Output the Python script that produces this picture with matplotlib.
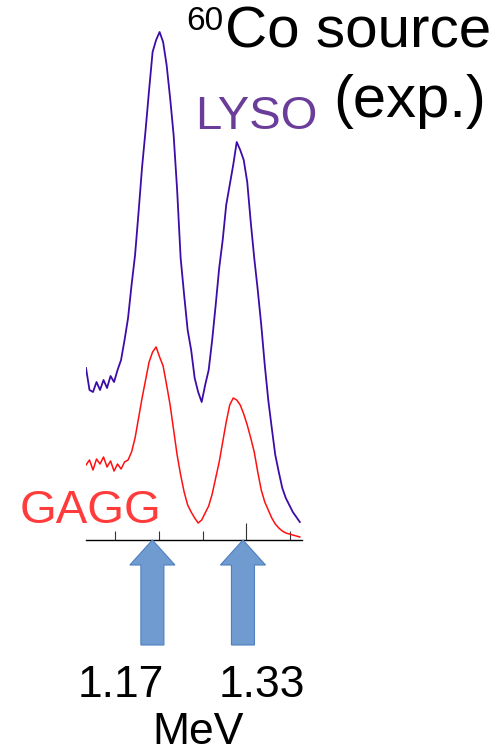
import numpy as np
from matplotlib import pyplot as plt

plt.rcParams["font.family"] = ["Liberation Sans", "DejaVu Sans"]

# channel axis of the spectrum and its energy calibration
channels = np.arange(134, 627, 8)
GAIN = 0.000774  # MeV per channel
OFFSET = 0.949  # MeV
peak_energies = [1.17, 1.33]
peak_labels = ["1.17", "1.33"]

# counts (arbitrary units)
lyso_counts = [
    172, 150, 148, 158, 150, 160, 152, 164, 158, 170, 180, 200, 222, 255,
    285, 328, 373, 410, 450, 488, 500, 508, 498, 475, 442, 405, 350, 282,
    245, 210, 190, 162, 148, 138, 155, 170, 200, 235, 272, 300, 335, 355,
    375, 398, 390, 380, 358, 318, 282, 250, 215, 175, 140, 112, 85, 68,
    52, 42, 35, 28, 23, 18,
]
gagg_counts = [
    75, 80, 70, 81, 76, 83, 73, 79, 69, 76, 71, 78, 80, 88, 102, 122,
    142, 160, 178, 188, 193, 183, 174, 155, 135, 110, 85, 65, 48, 35,
    28, 22, 17, 20, 27, 34, 46, 62, 78, 98, 118, 135, 142, 140, 135,
    126, 115, 102, 88, 68, 50, 38, 30, 22, 16, 12, 9, 7, 6, 5, 4, 3,
]

W, H = 501, 755
fig = plt.figure(figsize=(W / 100, H / 100), dpi=100)
ax = fig.add_axes([86 / W, (H - 540) / H, 216 / W, 520 / H])

ax.plot(channels, lyso_counts, color="#3d0ca8", lw=1.3)
ax.plot(channels, gagg_counts, color="#ff1010", lw=1.1)

ax.set_xlim(134, 627)
ax.set_ylim(0, 520)
for side in ["left", "right", "top"]:
    ax.spines[side].set_visible(False)
ax.spines["bottom"].set_linewidth(1.0)
ax.set_yticks([])
ax.set_xticks([200, 300, 400, 600])
ax.set_xticks([500], minor=True)
ax.tick_params(axis="x", which="major", direction="in", length=6.5,
               width=0.8, color="#333333", labelbottom=False)
ax.tick_params(axis="x", which="minor", direction="in", length=12.5,
               width=0.8, color="#333333", labelbottom=False)

# arrows marking the 60Co gamma lines
for e in peak_energies:
    ch = (e - OFFSET) / GAIN
    ax.arrow(ch, -105, 0, 105, width=23 / 0.4375, head_width=45 / 0.4375,
             head_length=25, length_includes_head=True, clip_on=False,
             facecolor="#6f9bd1", edgecolor="#4f7fbf", lw=0.8, zorder=3)


def label(x, y, s, **kw):
    fig.text(x / W, 1 - y / H, s, va="baseline", **kw)


label(186, 30, "60", fontsize=24)
label(225, 48, "Co source", fontsize=42)
label(486, 117, "(exp.)", fontsize=43, ha="right")
label(195, 129, "LYSO", fontsize=34, color="#6a3d9a")
label(20, 523, "GAGG", fontsize=34, color="#ff3b3b")
label(121, 697, peak_labels[0], fontsize=32, ha="center")
label(262, 697, peak_labels[1], fontsize=32, ha="center")
label(198, 744, "MeV", fontsize=32, ha="center")

fig.savefig("out.png", dpi=100)
